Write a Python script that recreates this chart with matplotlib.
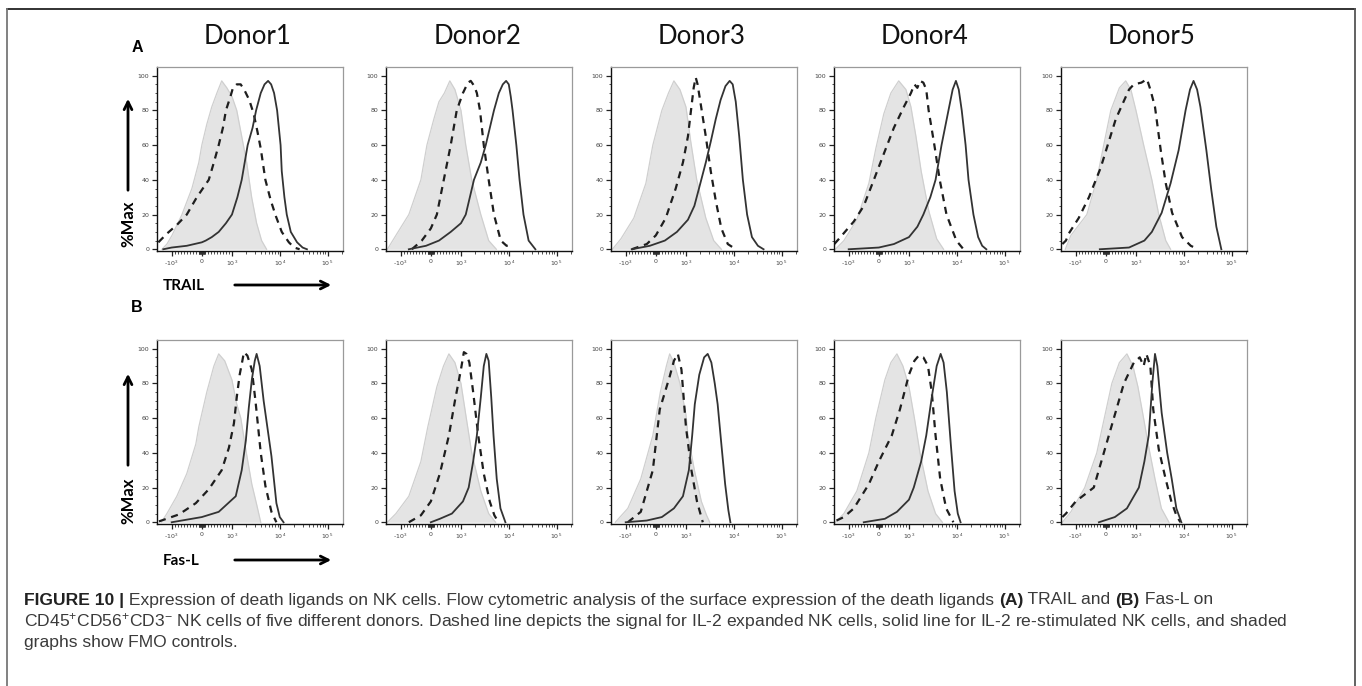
import numpy as np
import matplotlib
matplotlib.use("Agg")
import matplotlib.pyplot as plt
from matplotlib.patches import FancyArrowPatch
from matplotlib.lines import Line2D
from matplotlib.ticker import FixedLocator, NullFormatter

donors = ["Donor1", "Donor2", "Donor3", "Donor4", "Donor5"]
row_letters = ["A", "B"]
row_markers = ["TRAIL", "Fas-L"]

# (intensity, % of max), one list per donor
trail_fmo = [
    [(-1600, 0), (-1260, 3), (-990, 8), (-660, 20), (-330, 35), (-100, 50), (0, 60), (165, 72), (330, 82), (500, 90),
     (660, 97), (830, 93), (1000, 88), (1260, 80), (1600, 65), (2030, 50), (2580, 30), (3280, 15), (4170, 5), (5300, 0)],
    [(-1900, 0), (-1260, 8), (-730, 20), (-330, 40), (-130, 60), (100, 75), (270, 85), (450, 90), (630, 97), (800, 92),
     (1000, 80), (1260, 60), (1680, 40), (2600, 20), (3800, 5), (5500, 0)],
    [(-1900, 0), (-1260, 6), (-730, 18), (-330, 38), (-100, 60), (200, 80), (420, 90), (600, 97), (800, 92), (1000, 82),
     (1260, 62), (1680, 40), (2600, 18), (3800, 5), (5500, 0)],
    [(-1900, 0), (-1260, 5), (-730, 17), (-330, 38), (-100, 58), (165, 78), (400, 90), (660, 97), (900, 92), (1100, 82),
     (1400, 65), (1800, 45), (2600, 22), (3800, 6), (5300, 0)],
    [(-1650, 0), (-1260, 8), (-630, 20), (-300, 40), (-70, 60), (165, 80), (450, 93), (660, 97), (830, 92), (1000, 80),
     (1450, 60), (2150, 40), (3000, 20), (4200, 5), (5300, 0)],
]
trail_expanded = [
    [(-1900, 4), (-1260, 9), (-830, 14), (-500, 20), (-165, 30), (230, 40), (400, 50), (560, 60), (700, 70), (800, 80),
     (950, 88), (1050, 93), (1260, 95), (1520, 95), (1800, 92), (2300, 86), (2850, 78), (3400, 68), (4000, 58),
     (5000, 40), (6500, 28), (8300, 19), (11000, 10), (15500, 4), (20000, 1), (26000, 0)],
    [(-630, 0), (-300, 5), (0, 12), (200, 20), (430, 40), (660, 60), (860, 80), (1100, 90), (1400, 96), (1600, 97),
     (1900, 94), (2150, 90), (2500, 80), (3000, 60), (3800, 40), (4900, 20), (6800, 5), (9000, 2), (10000, 2), (11000, 0)],
    [(-800, 0), (-300, 3), (0, 8), (330, 18), (660, 35), (900, 50), (1100, 65), (1300, 82), (1450, 93), (1600, 99),
     (1750, 95), (2000, 85), (2600, 65), (3300, 45), (4200, 28), (5500, 12), (7500, 3), (11000, 0)],
    [(-2000, 3), (-1600, 6), (-1200, 10), (-830, 16), (-500, 25), (-165, 40), (165, 55), (500, 70), (830, 82),
     (1100, 90), (1300, 95), (1500, 93), (1700, 97), (2000, 96), (2300, 92), (2580, 80), (3400, 60), (4400, 40),
     (6100, 20), (9800, 5), (13800, 0)],
    [(-1900, 3), (-1600, 5), (-1400, 9), (-900, 18), (-560, 30), (-170, 47), (330, 75), (770, 92), (930, 95),
     (1300, 96), (1700, 98), (2000, 92), (2500, 82), (3300, 57), (4200, 38), (5700, 21), (9200, 7), (14000, 2), (20000, 0)],
]
trail_restim = [
    [(-1500, 0), (-1000, 1), (-500, 2), (0, 4), (130, 5), (330, 7), (560, 10), (800, 15), (1000, 20), (1300, 30),
     (1600, 40), (2130, 60), (2700, 70), (3200, 80), (4000, 90), (4800, 95), (5700, 97), (6600, 95), (7600, 90),
     (8800, 80), (10400, 60), (11000, 45), (12500, 30), (14000, 20), (17000, 10), (23000, 4), (30000, 1), (37000, 0)],
    [(-730, 0), (-160, 2), (270, 5), (660, 10), (1000, 15), (1260, 20), (1870, 40), (2600, 50), (3300, 60), (4900, 80),
     (6200, 90), (7500, 95), (8800, 97), (10000, 95), (11000, 88), (12000, 80), (14400, 60), (16800, 40), (20300, 20),
     (26000, 5), (36000, 0)],
    [(-800, 0), (-200, 2), (300, 5), (700, 10), (1100, 17), (1500, 25), (2000, 38), (2600, 50), (3300, 62), (4200, 75),
     (5300, 86), (6700, 94), (8200, 97), (9500, 95), (11000, 85), (13000, 65), (15500, 40), (19000, 20), (24000, 7),
     (32000, 2), (42000, 0)],
    [(-1000, 0), (0, 1), (500, 3), (1000, 7), (1500, 13), (2000, 20), (2800, 30), (3600, 40), (4800, 60), (6700, 80),
     (8200, 92), (9600, 97), (11000, 92), (12700, 80), (15300, 60), (17600, 40), (22300, 20), (28000, 7), (34000, 2),
     (41500, 0)],
    [(-200, 0), (770, 1), (1500, 5), (2150, 10), (3450, 21), (5300, 38), (7800, 57), (10900, 80), (13500, 92),
     (16000, 97), (19000, 92), (22300, 82), (29700, 57), (37700, 34), (48000, 13), (61000, 0)],
]

fasl_fmo = [
    [(-1650, 0), (-1260, 5), (-830, 15), (-500, 28), (-200, 45), (-100, 55), (165, 75), (400, 90), (560, 97), (760, 93),
     (1000, 82), (1260, 68), (1530, 60), (2000, 40), (2600, 22), (3300, 10), (4000, 0)],
    [(-1900, 0), (-1260, 5), (-730, 15), (-330, 35), (-100, 55), (200, 78), (420, 90), (600, 97), (800, 92), (1000, 80),
     (1260, 62), (1680, 40), (2600, 18), (3800, 5), (5300, 0)],
    [(-1650, 0), (-930, 8), (-500, 25), (-100, 50), (150, 75), (350, 90), (460, 97), (600, 92), (800, 80), (1000, 62),
     (1100, 50), (1500, 30), (2100, 12), (2700, 4), (3150, 0)],
    [(-1900, 0), (-1260, 5), (-730, 18), (-330, 40), (-100, 60), (200, 82), (400, 92), (600, 97), (800, 90), (1000, 78),
     (1300, 60), (1700, 40), (2500, 18), (3600, 5), (5000, 0)],
    [(-1900, 0), (-1260, 6), (-700, 20), (-300, 40), (-50, 60), (200, 80), (450, 92), (700, 97), (900, 90), (1100, 78),
     (1400, 62), (1800, 45), (2500, 25), (3400, 8), (4900, 0)],
]
fasl_expanded = [
    [(-1850, 0.5), (-760, 4.5), (-200, 11), (230, 19), (660, 30), (900, 43), (1100, 57), (1260, 72), (1450, 85),
     (1650, 93), (1780, 98), (2100, 96), (2600, 88), (3100, 70), (4000, 40), (5000, 21), (6700, 6), (8500, 0)],
    [(-730, 0), (-330, 4), (0, 12), (300, 28), (600, 50), (800, 70), (1000, 88), (1150, 98), (1300, 97), (1500, 92),
     (1800, 75), (2300, 50), (3000, 28), (4000, 12), (5000, 4), (6100, 0)],
    [(-930, 0), (-500, 6), (-100, 30), (130, 65), (460, 84), (600, 93), (730, 97), (850, 88), (1000, 55), (1300, 30),
     (1700, 12), (2250, 0)],
    [(-1800, 1), (-1260, 3), (-830, 8), (-330, 22), (0, 35), (430, 50), (700, 65), (1000, 85), (1300, 93), (1600, 96),
     (2000, 95), (2500, 90), (3000, 75), (3600, 50), (4500, 25), (6000, 8), (8500, 0)],
    [(-1900, 3), (-1600, 5), (-1000, 12), (-400, 20), (100, 50), (600, 80), (930, 92), (1200, 95), (1450, 90),
     (1650, 97), (2000, 90), (2300, 65), (3000, 42), (4170, 25), (5500, 12), (7000, 4), (8500, 0)],
]
fasl_restim = [
    [(-1000, 0), (0, 3), (560, 6), (1200, 15), (1600, 30), (1950, 47), (2250, 66), (2600, 82), (3000, 93), (3280, 97),
     (3800, 90), (4600, 70), (6700, 38), (8500, 11), (10000, 3), (12000, 0)],
    [(0, 0), (300, 2), (700, 5), (1100, 12), (1450, 20), (1800, 35), (2150, 50), (2600, 72), (3000, 90), (3400, 97),
     (3800, 93), (4300, 72), (4800, 50), (5600, 25), (6700, 8), (8500, 0)],
    [(-1000, 0), (-300, 1), (200, 3), (600, 8), (900, 15), (1150, 30), (1350, 50), (1530, 68), (1900, 85), (2400, 95),
     (2850, 97), (3400, 92), (4000, 80), (4600, 68), (5500, 45), (6600, 22), (7700, 7), (8500, 0)],
    [(-500, 0), (200, 2), (600, 6), (1000, 13), (1260, 20), (1800, 35), (2300, 50), (3000, 72), (3800, 90), (4600, 97),
     (5300, 92), (6200, 75), (7500, 45), (9000, 18), (10500, 5), (12000, 0)],
    [(-230, 0), (300, 3), (700, 8), (1150, 20), (1500, 35), (1850, 50), (2200, 80), (2500, 97), (2800, 90), (3450, 63),
     (4500, 40), (5600, 25), (7000, 8), (8900, 0)],
]

x_ticks = [-1000, 0, 1000, 10000, 100000]
x_ticklabels = ["-10$^3$", "0", "10$^3$", "10$^4$", "10$^5$"]
y_ticks = [0, 20, 40, 60, 80, 100]

caption_lines = [
    [("FIGURE 10 |", "bold"),
     (" Expression of death ligands on NK cells. Flow cytometric analysis of the surface expression of the death ligands ", "normal"),
     ("(A)", "bold"), (" TRAIL and ", "normal"), ("(B)", "bold"), (" Fas-L on", "normal")],
    [("CD45$^{+}$CD56$^{+}$CD3$^{-}$ NK cells of five different donors. Dashed line depicts the signal for IL-2 expanded NK cells, "
      "solid line for IL-2 re-stimulated NK cells, and shaded", "normal")],
    [("graphs show FMO controls.", "normal")],
]

W, H = 1362, 686
plt.rcParams["mathtext.fontset"] = "custom"
plt.rcParams["mathtext.rm"] = "Liberation Sans"
plt.rcParams["mathtext.it"] = "Liberation Sans"
plt.rcParams["mathtext.bf"] = "Liberation Sans:bold"

fig = plt.figure(figsize=(W / 100, H / 100), dpi=100)
fig.patch.set_facecolor("white")


def fx(px):
    return px / W


def fy(py):
    return 1 - py / H


# outer frame of the figure page
for xs, ys, c in [((7, 1355), (9, 9), "#222222"), ((7, 7), (9, 690), "#777777"), ((1355, 1355), (9, 690), "#555555")]:
    fig.add_artist(Line2D([fx(xs[0]), fx(xs[1])], [fy(ys[0]), fy(ys[1])], color=c, lw=1.3, transform=fig.transFigure))

col_left = [157, 386, 611, 834, 1061]
row_top = [67, 340]
aw, ah = 186, 184

minor_x = ([-v for v in range(100, 1000, 100)] + [-v for v in range(10, 100, 10)] + list(range(10, 100, 10))
           + list(range(100, 1000, 100)) + list(range(2000, 10000, 1000)) + list(range(20000, 100000, 10000)) + [200000])

rows = [(trail_fmo, trail_expanded, trail_restim), (fasl_fmo, fasl_expanded, fasl_restim)]

for r, (fmo, expd, rest) in enumerate(rows):
    for c in range(5):
        ax = fig.add_axes([fx(col_left[c]), fy(row_top[r] + ah), fx(aw), ah / H])
        ax.set_xscale("symlog", linthresh=1000, linscale=0.567)
        fx_, fy_ = zip(*fmo[c])
        ax.fill_between(fx_, fy_, 0, color="#e4e4e4", lw=0)
        ax.plot(fx_, fy_, color="#cfcfcf", lw=0.9)
        ex, ey = zip(*expd[c])
        ax.plot(ex, ey, color="#1e1e1e", lw=1.6, dashes=(3.2, 2.6))
        sx, sy = zip(*rest[c])
        ax.plot(sx, sy, color="#333333", lw=1.3)
        ax.set_xlim(-2030, 2.1e5)
        ax.set_ylim(-1, 105)
        ax.set_xticks(x_ticks)
        ax.set_xticklabels(x_ticklabels)
        ax.xaxis.set_minor_locator(FixedLocator(minor_x))
        ax.xaxis.set_minor_formatter(NullFormatter())
        ax.set_yticks(y_ticks)
        ax.yaxis.set_minor_locator(FixedLocator(np.arange(0, 101, 5)))
        ax.tick_params(which="major", length=3.5, width=0.9, labelsize=4.5, pad=2, labelcolor="#444444", color="#222222")
        ax.tick_params(which="minor", length=1.8, width=0.6, color="#333333")
        for s in ["top", "right"]:
            ax.spines[s].set_color("#9a9a9a")
            ax.spines[s].set_linewidth(0.9)
        for s in ["left", "bottom"]:
            ax.spines[s].set_color("#111111")
            ax.spines[s].set_linewidth(1.0)
        if r == 0:
            fig.text(fx(col_left[c] + aw / 2 - 2), fy(36), donors[c], fontsize=18.5, family="Lato",
                     ha="center", va="center", color="#111111")

# panel letters, axis words and arrows
for r, (ly, arrow_y, lab_y) in enumerate([(48, (193, 96), 224), (307, (468, 371), 501)]):
    fig.text(fx(137), fy(ly), row_letters[r], fontsize=11.5, fontweight="bold", family="Liberation Sans",
             ha="center", va="center")
    fig.add_artist(FancyArrowPatch((fx(128), fy(arrow_y[0])), (fx(128), fy(arrow_y[1])), transform=fig.transFigure,
                                   arrowstyle="->", mutation_scale=14, lw=2.0, color="black"))
    fig.text(fx(128), fy(lab_y), "%Max", rotation=90, fontsize=12, fontweight="bold", family="Lato",
             ha="center", va="center")

for r, yy in enumerate([285, 560]):
    fig.text(fx(163), fy(yy + 1), row_markers[r], fontsize=11, fontweight="bold", family="Lato",
             ha="left", va="center")
    fig.add_artist(FancyArrowPatch((fx(232), fy(yy)), (fx(334), fy(yy)), transform=fig.transFigure,
                                   arrowstyle="->", mutation_scale=14, lw=2.0, color="black"))

# caption, drawn piece by piece so the bold parts sit inline
renderer = fig.canvas.get_renderer()
for i, line in enumerate(caption_lines):
    x = 24
    y = 600 + i * 21.5
    for txt, wt in line:
        t = fig.text(fx(x), fy(y), txt, fontsize=12.6, fontweight=wt, family="Liberation Sans",
                     color="#222222" if wt == "bold" else "#3a3a3a", ha="left", va="center")
        x += t.get_window_extent(renderer).width

fig.savefig("out.png", dpi=100)
